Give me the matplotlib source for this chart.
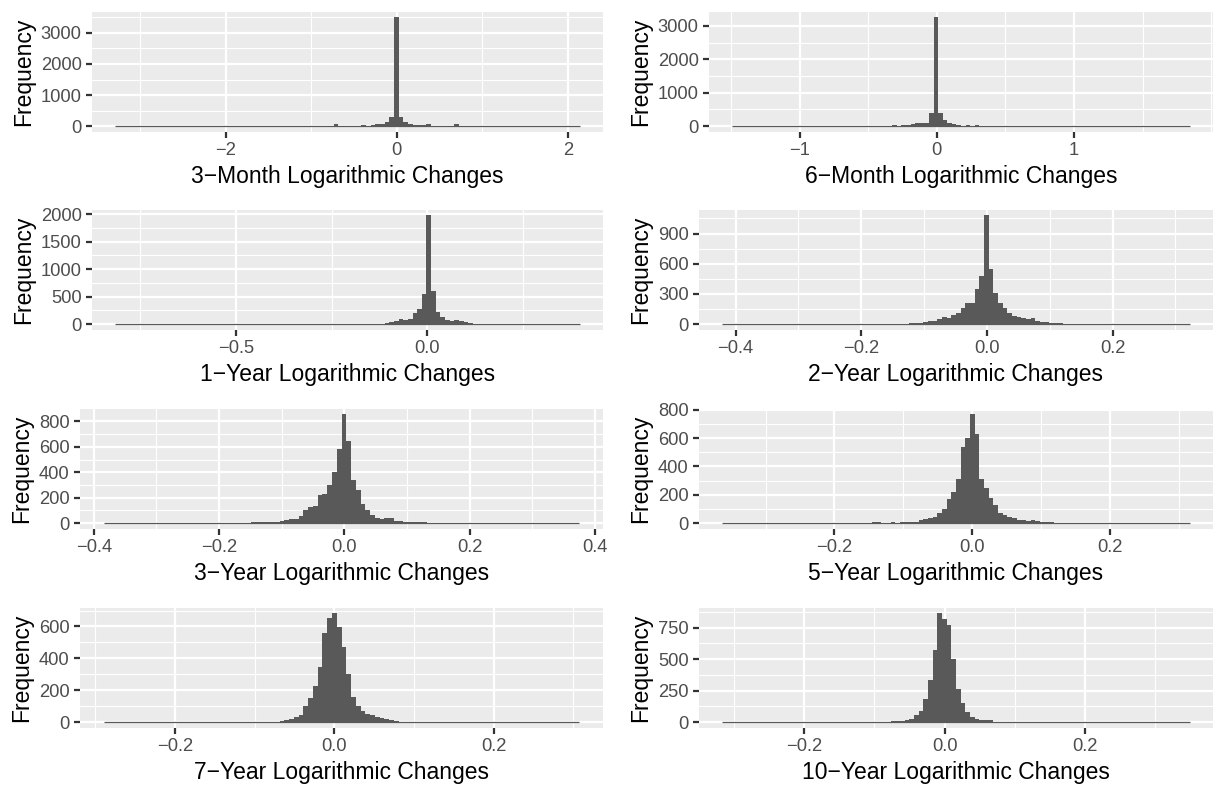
import matplotlib.pyplot as plt
import numpy as np
from matplotlib.ticker import AutoMinorLocator

plt.rcParams["font.family"] = ["Liberation Sans", "DejaVu Sans"]
plt.rcParams["axes.unicode_minus"] = True

N_BINS = 100

# --- data: every histogram has 100 equal bins over its data range;
# only the bins of the listed window hold observations ---
range_3m = (-3.29, 2.14)
start_3m = 47
counts_3m = [60, 5, 5, 5, 5, 5, 40, 10, 30, 65, 65, 130, 280, 3500, 300, 130, 65, 43,
             32, 20, 65, 15, 8, 8, 8, 8, 65, 5]
xticks_3m = [-2, 0, 2]
yticks_3m = [0, 1000, 2000, 3000]

range_6m = (-1.495, 1.847)
start_6m = 34
counts_6m = [10, 20, 10, 30, 20, 50, 100, 100, 100, 380, 3250, 380, 180, 100, 70, 40,
             10, 30, 10, 20]
xticks_6m = [-1, 0, 1]
yticks_6m = [0, 1000, 2000, 3000]

range_1y = (-0.816, 0.399)
start_1y = 57
counts_1y = [10, 20, 40, 60, 85, 75, 90, 200, 280, 550, 1980, 600, 220, 130, 80, 60, 75,
             55, 40, 20, 10]
xticks_1y = [-0.5, 0.0]
yticks_1y = [0, 500, 1000, 1500, 2000]

range_2y = (-0.421, 0.3227)
start_2y = 38
counts_2y = [2, 3, 15, 8, 10, 20, 28, 30, 50, 70, 60, 90, 113, 157, 213, 213, 347, 480,
             1080, 547, 307, 207, 157, 107, 80, 67, 57, 47, 57, 33, 23, 17, 13, 7, 10, 3]
xticks_2y = [-0.4, -0.2, 0.0, 0.2]
yticks_2y = [0, 300, 600, 900]

range_3y = (-0.384, 0.375)
start_3y = 28
counts_3y = [2, 3, 3, 6, 5, 8, 6, 8, 12, 15, 25, 30, 35, 55, 100, 130, 136, 220, 229, 300,
             399, 581, 855, 646, 340, 260, 150, 104, 60, 40, 30, 40, 38, 18, 15, 10, 10,
             8, 6, 5, 4, 3, 2, 2, 2, 2, 2, 1, 1, 1, 1]
xticks_3y = [-0.4, -0.2, 0.0, 0.2, 0.4]
yticks_3y = [0, 200, 400, 600, 800]

range_5y = (-0.3627, 0.316)
start_5y = 31
counts_5y = [3, 6, 8, 3, 4, 8, 3, 6, 7, 7, 10, 19, 30, 33, 40, 68, 98, 169, 220, 310,
             537, 600, 767, 632, 310, 250, 180, 130, 70, 56, 45, 35, 25, 20, 14, 22, 12,
             9, 6, 5, 3]
xticks_5y = [-0.2, 0.0, 0.2]
yticks_5y = [0, 200, 400, 600, 800]

range_7y = (-0.2894, 0.3074)
start_7y = 37
counts_7y = [4, 10, 18, 30, 42, 100, 150, 228, 348, 560, 655, 682, 598, 470, 300, 160,
             100, 70, 50, 42, 30, 25, 17, 12, 6]
xticks_7y = [-0.2, 0.0, 0.2]
yticks_7y = [0, 200, 400, 600]

range_10y = (-0.317, 0.3495)
start_10y = 35
counts_10y = [3, 6, 8, 10, 20, 25, 60, 90, 182, 334, 570, 864, 818, 770, 500, 265, 150,
              80, 40, 25, 16, 16, 14, 4]
xticks_10y = [-0.2, 0.0, 0.2]
yticks_10y = [0, 250, 500, 750]

titles = [
    "3−Month Logarithmic Changes", "6−Month Logarithmic Changes",
    "1−Year Logarithmic Changes", "2−Year Logarithmic Changes",
    "3−Year Logarithmic Changes", "5−Year Logarithmic Changes",
    "7−Year Logarithmic Changes", "10−Year Logarithmic Changes",
]

panels = [
    (range_3m, start_3m, counts_3m, xticks_3m, yticks_3m, "{:g}"),
    (range_6m, start_6m, counts_6m, xticks_6m, yticks_6m, "{:g}"),
    (range_1y, start_1y, counts_1y, xticks_1y, yticks_1y, "{:.1f}"),
    (range_2y, start_2y, counts_2y, xticks_2y, yticks_2y, "{:.1f}"),
    (range_3y, start_3y, counts_3y, xticks_3y, yticks_3y, "{:.1f}"),
    (range_5y, start_5y, counts_5y, xticks_5y, yticks_5y, "{:.1f}"),
    (range_7y, start_7y, counts_7y, xticks_7y, yticks_7y, "{:.1f}"),
    (range_10y, start_10y, counts_10y, xticks_10y, yticks_10y, "{:.1f}"),
]

# --- layout (pixels) ---
W, H = 1219, 785
row_tops = [12, 210, 409, 608]
panel_h = 119.5
panel_lefts = [92, 709, 92, 699, 80, 699, 80, 699]
panel_rights = [603, 1213]

BAR = "#595959"
PANEL_BG = "#EBEBEB"


def label(v, fmt):
    return fmt.format(v).replace("-", "\u2212")


fig = plt.figure(figsize=(W / 150, H / 150), dpi=150)

for i, (rng, start, counts, xt, yt, fmt) in enumerate(panels):
    row, col = divmod(i, 2)
    x0 = panel_lefts[i]
    x1 = panel_rights[col]
    top = row_tops[row]
    ax = fig.add_axes([x0 / W, 1 - (top + panel_h) / H, (x1 - x0) / W, panel_h / H])

    edges = np.linspace(rng[0], rng[1], N_BINS + 1)
    full = np.zeros(N_BINS)
    full[start:start + len(counts)] = counts
    ax.stairs(full, edges, fill=True, color=BAR, linewidth=0.4, zorder=3)
    # empty bins still show as a thin line along zero
    ax.hlines(0, edges[0], edges[-1], color=BAR, linewidth=0.6, zorder=3)

    span = rng[1] - rng[0]
    ax.set_xlim(rng[0] - 0.05 * span, rng[1] + 0.05 * span)
    ymax = full.max()
    ax.set_ylim(-0.05 * ymax, 1.05 * ymax)

    ax.set_xticks(xt, labels=[label(v, fmt) for v in xt])
    ax.set_yticks(yt, labels=[label(v, "{:g}") for v in yt])
    ax.xaxis.set_minor_locator(AutoMinorLocator(2))
    ax.yaxis.set_minor_locator(AutoMinorLocator(2))

    ax.set_facecolor(PANEL_BG)
    for s in ax.spines.values():
        s.set_visible(False)
    ax.set_axisbelow(True)
    ax.grid(which="major", color="white", linewidth=1.07)
    ax.grid(which="minor", color="white", linewidth=0.53)
    ax.tick_params(which="major", length=2.75, width=1.07, color="#333333",
                   labelcolor="#4D4D4D", labelsize=8.8, pad=2.2)
    ax.tick_params(which="minor", length=0)

    ax.set_xlabel(titles[i], fontsize=11, color="black", labelpad=2.75)
    ax.set_ylabel("Frequency", fontsize=11, color="black", labelpad=2.75)

fig.savefig("out.png", dpi=150, facecolor="white")
